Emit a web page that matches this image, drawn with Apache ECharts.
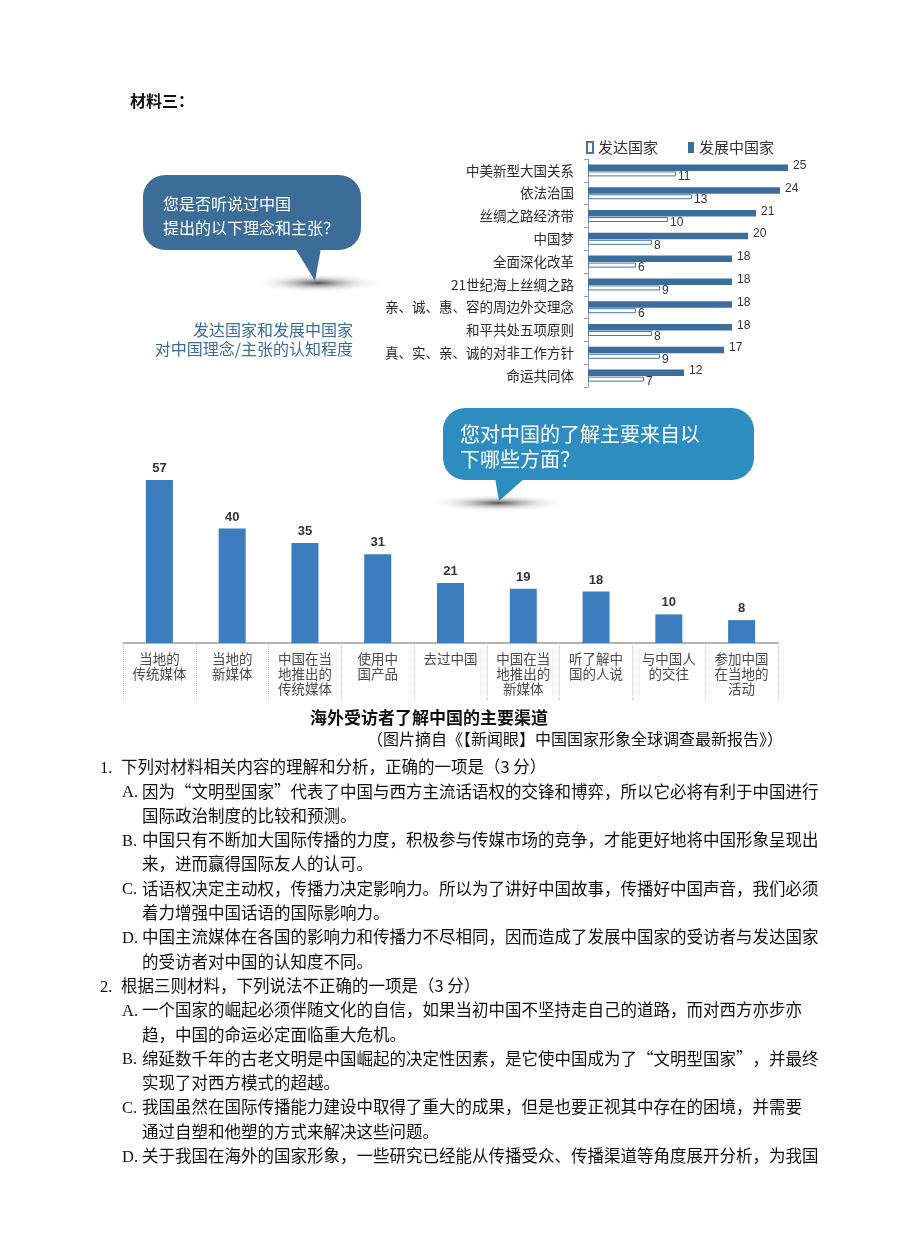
<!DOCTYPE html>
<html><head><meta charset="utf-8">
<script src="https://cdn.jsdelivr.net/npm/echarts@6/dist/echarts.min.js"></script>
<style>html,body{margin:0;padding:0;background:#fff}#c{width:920px;height:1260px}</style>
</head><body><div id="c"></div>
<script>
// ---- data: chart 1 (awareness of concepts) ----
const ideaCategories = ['中美新型大国关系','依法治国','丝绸之路经济带','中国梦','全面深化改革','21世纪海上丝绸之路','亲、诚、惠、容的周边外交理念','和平共处五项原则','真、实、亲、诚的对非工作方针','命运共同体'];
const developingValues = [25,24,21,20,18,18,18,18,17,12];
const developedValues  = [11,13,10,8,6,9,6,8,9,7];
const legendNames = ['发达国家','发展中国家'];
// ---- data: chart 2 (channels) ----
const channelCategories = ['当地的\n传统媒体','当地的\n新媒体','中国在当\n地推出的\n传统媒体','使用中\n国产品','去过中国','中国在当\n地推出的\n新媒体','听了解中\n国的人说','与中国人\n的交往','参加中国\n在当地的\n活动'];
const channelValues = [57,40,35,31,21,19,18,10,8];
// ---- texts ----
const q1Lines = [
 ['1.', '下列对材料相关内容的理解和分析，正确的一项是（3 分）', 0],
 ['A.', '因为“文明型国家”代表了中国与西方主流话语权的交锋和博弈，所以它必将有利于中国进行', 1],
 ['', '国际政治制度的比较和预测。', 1],
 ['B.', '中国只有不断加大国际传播的力度，积极参与传媒市场的竞争，才能更好地将中国形象呈现出', 1],
 ['', '来，进而赢得国际友人的认可。', 1],
 ['C.', '话语权决定主动权，传播力决定影响力。所以为了讲好中国故事，传播好中国声音，我们必须', 1],
 ['', '着力增强中国话语的国际影响力。', 1],
 ['D.', '中国主流媒体在各国的影响力和传播力不尽相同，因而造成了发展中国家的受访者与发达国家', 1],
 ['', '的受访者对中国的认知度不同。', 1],
 ['2.', '根据三则材料，下列说法不正确的一项是（3 分）', 0],
 ['A.', '一个国家的崛起必须伴随文化的自信，如果当初中国不坚持走自己的道路，而对西方亦步亦', 1],
 ['', '趋，中国的命运必定面临重大危机。', 1],
 ['B.', '绵延数千年的古老文明是中国崛起的决定性因素，是它使中国成为了“文明型国家”，并最终', 1],
 ['', '实现了对西方模式的超越。', 1],
 ['C.', '我国虽然在国际传播能力建设中取得了重大的成果，但是也要正视其中存在的困境，并需要', 1],
 ['', '通过自塑和他塑的方式来解决这些问题。', 1],
 ['D.', '关于我国在海外的国家形象，一些研究已经能从传播受众、传播渠道等角度展开分析，为我国', 1]
];

const CJK = "'Noto Sans CJK SC', sans-serif";
const SERIF = "'Liberation Serif', 'Noto Sans CJK SC', serif";
const darkBlue = '#3c6e9d';
const barBlue = '#3b7dbf';

const graphics = [];
function txt(x, y, text, style) {
  graphics.push({type:'text', x:x, y:y, silent:true, style:Object.assign({text:text, fill:'#222', font:'16px ' + CJK, textVerticalAlign:'middle'}, style||{})});
}
function shadow(cx, cy, rx, ry) {
  graphics.push({type:'circle', x:cx, y:cy, scaleY:ry / rx, silent:true, shape:{cx:0, cy:0, r:rx},
    style:{fill:{type:'radial', x:0.5, y:0.5, r:0.5, colorStops:[
      {offset:0, color:'rgba(50,50,50,0.85)'},
      {offset:0.25, color:'rgba(90,90,90,0.55)'},
      {offset:0.6, color:'rgba(170,170,170,0.25)'},
      {offset:1, color:'rgba(255,255,255,0)'}]}}});
}
// heading
txt(130, 101, '材料三：', {font:'bold 16px ' + CJK, fill:'#111'});

// bubble 1
shadow(318, 283, 68, 10);
graphics.push({type:'rect', shape:{x:143, y:175, width:218, height:75, r:22}, silent:true, style:{fill:'#3b6d98'}});
graphics.push({type:'polygon', shape:{points:[[295,248],[321,248],[315,281]]}, silent:true, style:{fill:'#3b6d98'}});
txt(163, 204, '您是否听说过中国', {fill:'#fff', font:'16px ' + CJK});
txt(163, 228, '提出的以下理念和主张？', {fill:'#fff', font:'16px ' + CJK});
txt(353, 330, '发达国家和发展中国家', {fill:'#3d6c97', font:'16px ' + CJK, textAlign:'right'});
txt(353, 349, '对中国理念/主张的认知程度', {fill:'#3d6c97', font:'16px ' + CJK, textAlign:'right'});

// bubble 2
shadow(498, 503, 72, 9);
graphics.push({type:'rect', shape:{x:443, y:408, width:311, height:72, r:22}, silent:true, style:{fill:'#2d8cc0'}});
graphics.push({type:'polygon', shape:{points:[[495,478],[525,478],[499,501]]}, silent:true, style:{fill:'#2d8cc0'}});
txt(460, 434, '您对中国的了解主要来自以', {fill:'#fff', font:'20px ' + CJK});
txt(460, 459, '下哪些方面？', {fill:'#fff', font:'20px ' + CJK});

// chart 2 title & source
txt(429, 718, '海外受访者了解中国的主要渠道', {fill:'#111', font:'bold 17px ' + CJK, textAlign:'center'});
txt(367, 739, '（图片摘自《【新闻眼】中国国家形象全球调查最新报告》）', {fill:'#111', font:'16px ' + CJK});

// questions
q1Lines.forEach(function (l, i) {
  const y = 767 + i * 24.3;
  if (l[2] === 0) {
    txt(100, y + 1.5, l[0], {font:'16.5px ' + SERIF, fill:'#111'});
    txt(121, y, l[1], {font:'16.5px ' + CJK, fill:'#111'});
  } else {
    if (l[0]) txt(122, y + 1.5, l[0], {font:'16.5px ' + SERIF, fill:'#111'});
    txt(142, y, l[1], {font:'16.5px ' + CJK, fill:'#111'});
  }
});

const chart = echarts.init(document.getElementById('c'), null, {renderer:'canvas'});
chart.setOption({
  backgroundColor:'#fff',
  animation:false,
  textStyle:{fontFamily:CJK},
  legend:{
    data:legendNames, left:581, top:135, itemWidth:6, itemHeight:11, itemGap:30,
    icon:'rect', textStyle:{fontSize:15, color:'#333', fontFamily:CJK}
  },
  grid:[
    {left:588, top:159, width:200, height:228},
    {left:123, top:471.4, width:655, height:171.6}
  ],
  xAxis:[
    {type:'value', gridIndex:0, min:0, max:25, show:false},
    {type:'category', gridIndex:1, data:channelCategories,
      axisLine:{lineStyle:{color:'#9a9a9a', width:1.5}},
      axisTick:{show:true, length:57, lineStyle:{color:'#c4c4c4', type:'dotted', width:1}},
      axisLabel:{interval:0, margin:8, fontSize:13.5, lineHeight:15, color:'#4a4a4a', fontFamily:CJK}}
  ],
  yAxis:[
    {type:'category', gridIndex:0, data:ideaCategories, inverse:true,
      axisLine:{lineStyle:{color:'#8d9cb0', width:1}},
      axisTick:{show:true, length:4, lineStyle:{color:'#8d9cb0'}},
      axisLabel:{margin:14, fontSize:13.5, color:'#2a2a2a', fontFamily:CJK}},
    {type:'value', gridIndex:1, min:0, max:60, show:false}
  ],
  series:[
    {name:'发展中国家', type:'bar', xAxisIndex:0, yAxisIndex:0, data:developingValues,
      barWidth:6.5, barGap:'8%', itemStyle:{color:darkBlue},
      label:{show:true, position:'right', distance:5, offset:[0,-2], fontSize:12, color:'#333', fontFamily:"'Liberation Sans', sans-serif"}},
    {name:'发达国家', type:'bar', xAxisIndex:0, yAxisIndex:0, data:developedValues,
      barWidth:5, itemStyle:{color:'#fff', borderColor:'#4877a6', borderWidth:1},
      label:{show:true, position:'right', distance:2, offset:[0,3], fontSize:12, color:'#333', fontFamily:"'Liberation Sans', sans-serif"}},
    {name:'渠道', type:'bar', xAxisIndex:1, yAxisIndex:1, data:channelValues,
      barWidth:27, itemStyle:{color:barBlue},
      label:{show:true, position:'top', distance:5, fontSize:13, fontWeight:'bold', color:'#333', fontFamily:"'Liberation Sans', sans-serif"}}
  ],
  graphic:graphics
});
</script></body></html>
